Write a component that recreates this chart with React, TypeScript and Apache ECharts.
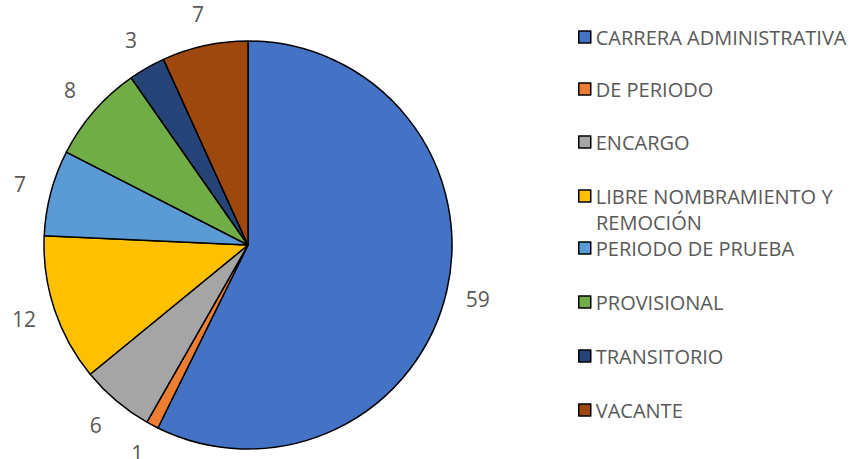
import React, { useEffect, useRef } from "react";
import * as echarts from "echarts";

const categories = [
  "CARRERA ADMINISTRATIVA",
  "DE PERIODO",
  "ENCARGO",
  "LIBRE NOMBRAMIENTO Y REMOCIÓN",
  "PERIODO DE PRUEBA",
  "PROVISIONAL",
  "TRANSITORIO",
  "VACANTE",
];
const values = [59, 1, 6, 12, 7, 8, 3, 7];
const colors = ["#4472C4", "#ED7D31", "#A5A5A5", "#FFC000", "#5B9BD5", "#70AD47", "#264478", "#9E480E"];
const legendCenters = [37, 89, 142, 196, 248, 302, 356, 410];

const FONT = "'Open Sans', 'Noto Sans', sans-serif";
const TEXT = "#595959";

export default function App() {
  const ref = useRef<HTMLDivElement>(null);
  useEffect(() => {
    if (!ref.current) return;
    const chart = echarts.init(ref.current, null, { renderer: "svg" });
    const data = categories.map((name, i) => ({ name, value: values[i], itemStyle: { color: colors[i] } }));
    const center = [248, 245];
    chart.setOption({
      animation: false,
      backgroundColor: "#ffffff",
      textStyle: { fontFamily: FONT },
      legend: categories.map((name, i) => ({
        data: [name],
        orient: "vertical",
        left: 578,
        top: legendCenters[i] - 12,
        padding: 0,
        icon: "rect",
        itemWidth: 12,
        itemHeight: 12,
        selectedMode: false,
        itemStyle: { borderColor: "#000000", borderWidth: 1.5 },
        formatter: (n: string) => (n === "LIBRE NOMBRAMIENTO Y REMOCIÓN" ? "LIBRE NOMBRAMIENTO Y" : n),
        textStyle: { color: TEXT, fontSize: 20, fontFamily: FONT, lineHeight: 24 },
      })),
      graphic: [
        {
          type: "text",
          x: 596,
          y: 222,
          style: { text: "REMOCIÓN", fill: TEXT, font: `20px ${FONT}`, verticalAlign: "middle" },
        },
      ],
      series: [
        {
          type: "pie",
          center,
          radius: 204,
          startAngle: 90,
          clockwise: true,
          data,
          label: { show: false },
          labelLine: { show: false },
          itemStyle: { borderColor: "#000000", borderWidth: 1.5 },
          emphasis: { disabled: true },
        },
        {
          type: "pie",
          center,
          radius: [228, 238],
          startAngle: 90,
          clockwise: true,
          silent: true,
          data: categories.map((name, i) => ({ name, value: values[i] })),
          itemStyle: { color: "rgba(0,0,0,0)", borderWidth: 0 },
          label: {
            show: true,
            position: "inside",
            formatter: "{c}",
            color: TEXT,
            fontSize: 21,
            fontFamily: FONT,
          },
          labelLine: { show: false },
          emphasis: { disabled: true },
        },
      ],
    });
    return () => chart.dispose();
  }, []);
  return <div ref={ref} style={{ width: 868, height: 459, position: "absolute", left: 0, top: 0 }} />;
}
